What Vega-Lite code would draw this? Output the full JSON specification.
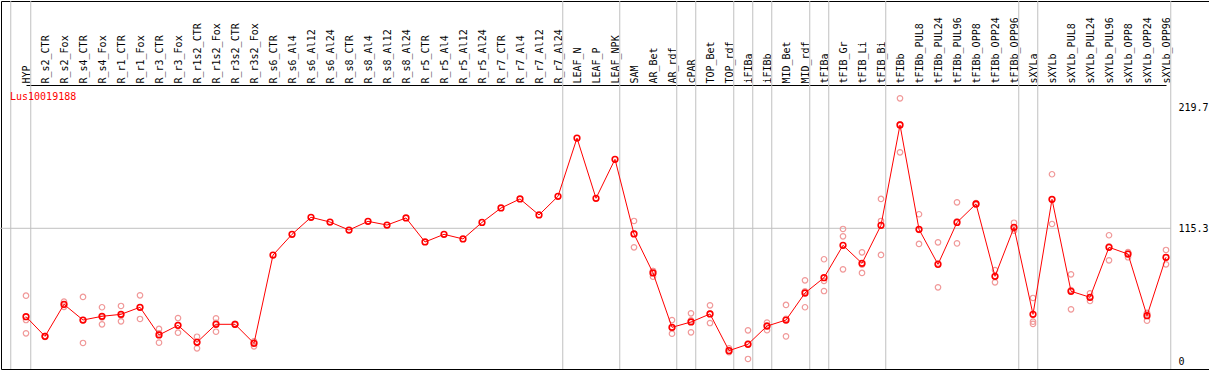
{
  "$schema": "https://vega.github.io/schema/vega-lite/v6.json",
  "width": 1208,
  "height": 368,
  "padding": {"left": 1, "top": 1, "right": 0, "bottom": 1},
  "autosize": {"type": "none"},
  "background": "white",
  "config": {
    "view": {"stroke": "black", "strokeWidth": 1},
    "font": "DejaVu Sans Mono",
    "axis": {"labelFont": "DejaVu Sans Mono", "labelFontSize": 10, "labelColor": "black", "title": null}
  },
  "title": {"text": "Lus10019188", "color": "red", "font": "DejaVu Sans Mono", "fontSize": 10, "fontWeight": "normal", "anchor": "start", "orient": "top", "frame": "group", "offset": -109, "baseline": "alphabetic", "dx": 9},
  "datasets": {
    "means": [
      {"sample": "HYP", "value": 39.1},
      {"sample": "R_s2_CTR", "value": 22.1},
      {"sample": "R_s2_Fox", "value": 49.7},
      {"sample": "R_s4_CTR", "value": 36.2},
      {"sample": "R_s4_Fox", "value": 39.4},
      {"sample": "R_r1_CTR", "value": 41.1},
      {"sample": "R_r1_Fox", "value": 47.2},
      {"sample": "R_r3_CTR", "value": 23.3},
      {"sample": "R_r3_Fox", "value": 31.6},
      {"sample": "R_r1s2_CTR", "value": 17.0},
      {"sample": "R_r1s2_Fox", "value": 32.5},
      {"sample": "R_r3s2_CTR", "value": 32.5},
      {"sample": "R_r3s2_Fox", "value": 16.1},
      {"sample": "R_s6_CTR", "value": 92.2},
      {"sample": "R_s6_Al4", "value": 110.1},
      {"sample": "R_s6_Al12", "value": 124.8},
      {"sample": "R_s6_Al24", "value": 120.7},
      {"sample": "R_s8_CTR", "value": 113.8},
      {"sample": "R_s8_Al4", "value": 121.3},
      {"sample": "R_s8_Al12", "value": 118.1},
      {"sample": "R_s8_Al24", "value": 124.2},
      {"sample": "R_r5_CTR", "value": 103.5},
      {"sample": "R_r5_Al4", "value": 110.1},
      {"sample": "R_r5_Al12", "value": 106.1},
      {"sample": "R_r5_Al24", "value": 120.4},
      {"sample": "R_r7_CTR", "value": 132.8},
      {"sample": "R_r7_Al4", "value": 140.6},
      {"sample": "R_r7_Al12", "value": 126.8},
      {"sample": "R_r7_Al24", "value": 142.9},
      {"sample": "LEAF_N", "value": 193.1},
      {"sample": "LEAF_P", "value": 141.2},
      {"sample": "LEAF_NPK", "value": 174.8},
      {"sample": "SAM", "value": 110.4},
      {"sample": "AR_Bet", "value": 76.8},
      {"sample": "AR_rdf", "value": 29.9},
      {"sample": "cPAR", "value": 34.5},
      {"sample": "TOP_Bet", "value": 41.4},
      {"sample": "TOP_rdf", "value": 9.8},
      {"sample": "iFIBa", "value": 15.3},
      {"sample": "iFIBb", "value": 31.0},
      {"sample": "MID_Bet", "value": 36.2},
      {"sample": "MID_rdf", "value": 59.5},
      {"sample": "tFIBa", "value": 72.7},
      {"sample": "tFIB_Gr", "value": 100.6},
      {"sample": "tFIB_Li", "value": 85.1},
      {"sample": "tFIB_Bi", "value": 117.9},
      {"sample": "tFIBb", "value": 204.4},
      {"sample": "tFIBb_PUL8", "value": 114.4},
      {"sample": "tFIBb_PUL24", "value": 84.2},
      {"sample": "tFIBb_PUL96", "value": 120.4},
      {"sample": "tFIBb_OPP8", "value": 136.3},
      {"sample": "tFIBb_OPP24", "value": 73.9},
      {"sample": "tFIBb_OPP96", "value": 116.1},
      {"sample": "sXYLa", "value": 41.1},
      {"sample": "sXYLb", "value": 140.3},
      {"sample": "sXYLb_PUL8", "value": 61.0},
      {"sample": "sXYLb_PUL24", "value": 55.8},
      {"sample": "sXYLb_PUL96", "value": 98.9},
      {"sample": "sXYLb_OPP8", "value": 93.1},
      {"sample": "sXYLb_OPP24", "value": 39.9},
      {"sample": "sXYLb_OPP96", "value": 90.3}
    ],
    "reps": [
      {"sample": "HYP", "value": 57.2}, {"sample": "HYP", "value": 36.2}, {"sample": "HYP", "value": 24.7},
      {"sample": "R_s2_CTR", "value": 21.6}, {"sample": "R_s2_CTR", "value": 22.4}, {"sample": "R_s2_CTR", "value": 22.3},
      {"sample": "R_s2_Fox", "value": 52.0}, {"sample": "R_s2_Fox", "value": 49.5}, {"sample": "R_s2_Fox", "value": 47.6},
      {"sample": "R_s4_CTR", "value": 56.1}, {"sample": "R_s4_CTR", "value": 16.4}, {"sample": "R_s4_CTR", "value": 36.1},
      {"sample": "R_s4_Fox", "value": 47.2}, {"sample": "R_s4_Fox", "value": 32.5}, {"sample": "R_s4_Fox", "value": 38.5},
      {"sample": "R_r1_CTR", "value": 48.3}, {"sample": "R_r1_CTR", "value": 35.1}, {"sample": "R_r1_CTR", "value": 40.0},
      {"sample": "R_r1_Fox", "value": 57.5}, {"sample": "R_r1_Fox", "value": 37.1}, {"sample": "R_r1_Fox", "value": 47.0},
      {"sample": "R_r3_CTR", "value": 28.5}, {"sample": "R_r3_CTR", "value": 16.7}, {"sample": "R_r3_CTR", "value": 24.7},
      {"sample": "R_r3_Fox", "value": 37.9}, {"sample": "R_r3_Fox", "value": 25.3}, {"sample": "R_r3_Fox", "value": 31.6},
      {"sample": "R_r1s2_CTR", "value": 21.8}, {"sample": "R_r1s2_CTR", "value": 11.8}, {"sample": "R_r1s2_CTR", "value": 17.4},
      {"sample": "R_r1s2_Fox", "value": 37.7}, {"sample": "R_r1s2_Fox", "value": 26.1}, {"sample": "R_r1s2_Fox", "value": 33.7},
      {"sample": "R_r3s2_CTR", "value": 33.0}, {"sample": "R_r3s2_CTR", "value": 32.2}, {"sample": "R_r3s2_CTR", "value": 32.3},
      {"sample": "R_r3s2_Fox", "value": 17.0}, {"sample": "R_r3s2_Fox", "value": 13.5}, {"sample": "R_r3s2_Fox", "value": 17.8},
      {"sample": "SAM", "value": 121.6}, {"sample": "SAM", "value": 98.9}, {"sample": "SAM", "value": 110.7},
      {"sample": "AR_Bet", "value": 78.5}, {"sample": "AR_Bet", "value": 73.6}, {"sample": "AR_Bet", "value": 78.3},
      {"sample": "AR_rdf", "value": 36.2}, {"sample": "AR_rdf", "value": 24.4}, {"sample": "AR_rdf", "value": 29.1},
      {"sample": "cPAR", "value": 42.0}, {"sample": "cPAR", "value": 25.6}, {"sample": "cPAR", "value": 35.9},
      {"sample": "TOP_Bet", "value": 48.9}, {"sample": "TOP_Bet", "value": 33.6}, {"sample": "TOP_Bet", "value": 41.7},
      {"sample": "TOP_rdf", "value": 11.8}, {"sample": "TOP_rdf", "value": 8.4}, {"sample": "TOP_rdf", "value": 9.2},
      {"sample": "iFIBa", "value": 27.3}, {"sample": "iFIBa", "value": 2.6}, {"sample": "iFIBa", "value": 16.0},
      {"sample": "iFIBb", "value": 34.0}, {"sample": "iFIBb", "value": 27.4}, {"sample": "iFIBb", "value": 31.6},
      {"sample": "MID_Bet", "value": 49.2}, {"sample": "MID_Bet", "value": 22.1}, {"sample": "MID_Bet", "value": 37.3},
      {"sample": "MID_rdf", "value": 70.4}, {"sample": "MID_rdf", "value": 47.2}, {"sample": "MID_rdf", "value": 60.9},
      {"sample": "tFIBa", "value": 88.6}, {"sample": "tFIBa", "value": 69.9}, {"sample": "tFIBa", "value": 61.2},
      {"sample": "tFIB_Gr", "value": 114.7}, {"sample": "tFIB_Gr", "value": 108.4}, {"sample": "tFIB_Gr", "value": 79.9},
      {"sample": "tFIB_Li", "value": 94.6}, {"sample": "tFIB_Li", "value": 76.8}, {"sample": "tFIB_Li", "value": 83.9},
      {"sample": "tFIB_Bi", "value": 140.6}, {"sample": "tFIB_Bi", "value": 121.6}, {"sample": "tFIB_Bi", "value": 92.3},
      {"sample": "tFIBb", "value": 227.4}, {"sample": "tFIBb", "value": 180.8}, {"sample": "tFIBb", "value": 205.0},
      {"sample": "tFIBb_PUL8", "value": 127.4}, {"sample": "tFIBb_PUL8", "value": 101.8}, {"sample": "tFIBb_PUL8", "value": 114.0},
      {"sample": "tFIBb_PUL24", "value": 103.2}, {"sample": "tFIBb_PUL24", "value": 64.4}, {"sample": "tFIBb_PUL24", "value": 85.0},
      {"sample": "tFIBb_PUL96", "value": 137.7}, {"sample": "tFIBb_PUL96", "value": 102.3}, {"sample": "tFIBb_PUL96", "value": 121.2},
      {"sample": "tFIBb_OPP8", "value": 137.0}, {"sample": "tFIBb_OPP8", "value": 136.0}, {"sample": "tFIBb_OPP8", "value": 135.9},
      {"sample": "tFIBb_OPP24", "value": 79.3}, {"sample": "tFIBb_OPP24", "value": 68.7}, {"sample": "tFIBb_OPP24", "value": 73.7},
      {"sample": "tFIBb_OPP96", "value": 120.1}, {"sample": "tFIBb_OPP96", "value": 113.2}, {"sample": "tFIBb_OPP96", "value": 115.0},
      {"sample": "sXYLa", "value": 55.2}, {"sample": "sXYLa", "value": 34.8}, {"sample": "sXYLa", "value": 32.8},
      {"sample": "sXYLb", "value": 161.9}, {"sample": "sXYLb", "value": 119.0}, {"sample": "sXYLb", "value": 140.0},
      {"sample": "sXYLb_PUL8", "value": 75.6}, {"sample": "sXYLb_PUL8", "value": 45.4}, {"sample": "sXYLb_PUL8", "value": 62.0},
      {"sample": "sXYLb_PUL24", "value": 59.2}, {"sample": "sXYLb_PUL24", "value": 52.6}, {"sample": "sXYLb_PUL24", "value": 55.6},
      {"sample": "sXYLb_PUL96", "value": 109.3}, {"sample": "sXYLb_PUL96", "value": 87.7}, {"sample": "sXYLb_PUL96", "value": 99.7},
      {"sample": "sXYLb_OPP8", "value": 94.3}, {"sample": "sXYLb_OPP8", "value": 90.3}, {"sample": "sXYLb_OPP8", "value": 94.7},
      {"sample": "sXYLb_OPP24", "value": 42.3}, {"sample": "sXYLb_OPP24", "value": 35.6}, {"sample": "sXYLb_OPP24", "value": 41.8},
      {"sample": "sXYLb_OPP96", "value": 96.6}, {"sample": "sXYLb_OPP96", "value": 84.2}, {"sample": "sXYLb_OPP96", "value": 90.0}
    ],
    "bounds": [
      {"sample": "HYP"}, {"sample": "R_r7_Al24"}, {"sample": "LEAF_NPK"}, {"sample": "AR_rdf"}, {"sample": "cPAR"},
      {"sample": "TOP_rdf"}, {"sample": "iFIBa"}, {"sample": "iFIBb"}, {"sample": "MID_rdf"}, {"sample": "tFIBa"},
      {"sample": "tFIB_Bi"}, {"sample": "tFIBb_OPP96"}, {"sample": "sXYLa"}, {"sample": "sXYLb_OPP96"}
    ],
    "lead": [{"sample": "HYP"}],
    "hgrid": [{"sample": "HYP", "last": "sXYLb_OPP96", "value": 115.3}]
  },
  "encoding": {
    "x": {
      "field": "sample", "type": "nominal",
      "scale": {"type": "point", "padding": 0, "range": [25, 1165], "domain": ["HYP","R_s2_CTR","R_s2_Fox","R_s4_CTR","R_s4_Fox","R_r1_CTR","R_r1_Fox","R_r3_CTR","R_r3_Fox","R_r1s2_CTR","R_r1s2_Fox","R_r3s2_CTR","R_r3s2_Fox","R_s6_CTR","R_s6_Al4","R_s6_Al12","R_s6_Al24","R_s8_CTR","R_s8_Al4","R_s8_Al12","R_s8_Al24","R_r5_CTR","R_r5_Al4","R_r5_Al12","R_r5_Al24","R_r7_CTR","R_r7_Al4","R_r7_Al12","R_r7_Al24","LEAF_N","LEAF_P","LEAF_NPK","SAM","AR_Bet","AR_rdf","cPAR","TOP_Bet","TOP_rdf","iFIBa","iFIBb","MID_Bet","MID_rdf","tFIBa","tFIB_Gr","tFIB_Li","tFIB_Bi","tFIBb","tFIBb_PUL8","tFIBb_PUL24","tFIBb_PUL96","tFIBb_OPP8","tFIBb_OPP24","tFIBb_OPP96","sXYLa","sXYLb","sXYLb_PUL8","sXYLb_PUL24","sXYLb_PUL96","sXYLb_OPP8","sXYLb_OPP24","sXYLb_OPP96"]},
      "axis": {"orient": "top", "offset": -84, "labelAngle": -90, "labelAlign": "left", "labelBaseline": "middle", "labelPadding": 2, "ticks": false, "grid": false, "domain": true, "domainColor": "black", "domainWidth": 1, "labelOverlap": false, "labelBound": false, "labelFlush": false}
    },
    "y": {
      "field": "value", "type": "quantitative",
      "scale": {"domain": [-6.04, 311.3], "nice": false, "zero": false},
      "axis": {"orient": "right", "offset": -38, "values": [0, 115.3, 219.7], "format": ".1~f", "ticks": false, "domain": false, "grid": false, "labelPadding": 7, "labelAlign": "left", "labelBaseline": "middle", "labelFlush": false, "labelBound": false}
    }
  },
  "layer": [
    {
      "data": {"name": "bounds"},
      "mark": {"type": "rule", "color": "#c0c0c0", "strokeWidth": 1, "xOffset": 4.75},
      "encoding": {"y": null}
    },
    {
      "data": {"name": "lead"},
      "mark": {"type": "rule", "color": "#c0c0c0", "strokeWidth": 1, "xOffset": -15.25},
      "encoding": {"y": null}
    },
    {
      "data": {"name": "hgrid"},
      "mark": {"type": "rule", "color": "#c0c0c0", "strokeWidth": 1, "xOffset": -26, "x2Offset": 4.75},
      "encoding": {"x2": {"field": "last"}}
    },
    {
      "data": {"name": "reps"},
      "mark": {"type": "point", "shape": "circle", "filled": false, "color": "#f09898", "size": 30, "strokeWidth": 1.2, "opacity": 1}
    },
    {
      "data": {"name": "means"},
      "mark": {"type": "line", "color": "#ff0000", "strokeWidth": 1}
    },
    {
      "data": {"name": "means"},
      "mark": {"type": "point", "shape": "circle", "filled": false, "color": "#ff0000", "size": 32, "strokeWidth": 1.6, "opacity": 1}
    }
  ]
}
